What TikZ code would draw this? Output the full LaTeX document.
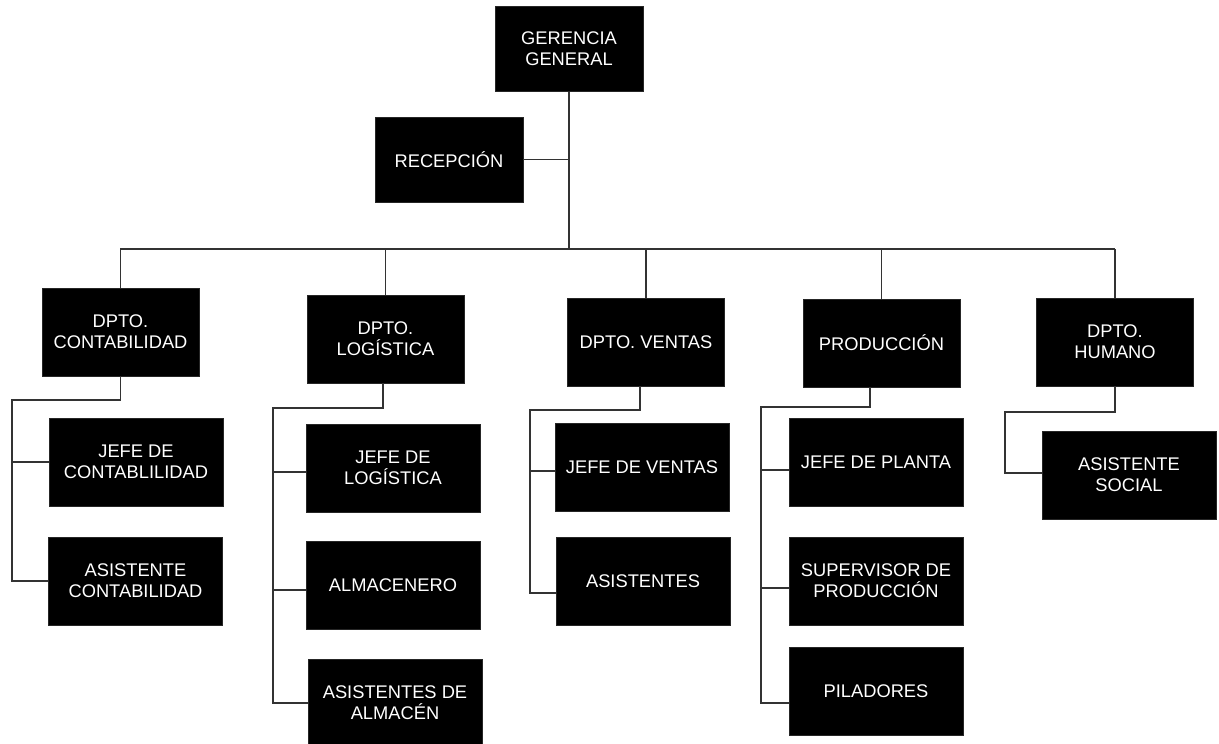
\documentclass[tikz,border=0pt]{standalone}
\usepackage{fontspec}
\setmainfont{Liberation Sans}
\begin{document}
\begin{tikzpicture}[x=1pt,y=-1pt,
  box/.style={fill=black,draw=black!85,line width=0.6pt,text=white,align=center,
    inner sep=0pt,font=\fontsize{18.3}{21}\selectfont},
  headbox/.style={box,minimum width=148pt,minimum height=85pt},
  deptbox/.style={box,minimum width=157pt,minimum height=88pt},
  staffbox/.style={box,minimum width=174pt,minimum height=88pt},
  link/.style={draw=black!80,line width=1.3pt}]
\useasboundingbox (0,0) rectangle (1219,744);

% top level
\node[headbox] (gg)  at (569,49)    {GERENCIA\\GENERAL};
\node[headbox] (rec) at (449,159.5) {RECEPCIÓN};

% departments
\node[deptbox] (cont) at (120.5,332) {DPTO.\\CONTABILIDAD};
\node[deptbox] (log)  at (385.5,339) {DPTO.\\LOGÍSTICA};
\node[deptbox] (ven)  at (646,342)   {DPTO. VENTAS};
\node[deptbox] (prod) at (881.5,343) {PRODUCCIÓN};
\node[deptbox] (hum)  at (1115,342)  {DPTO.\\HUMANO};

% staff
\node[staffbox] (jc)  at (136,462)   {JEFE DE\\CONTABLILIDAD};
\node[staffbox] (ac)  at (135.5,581) {ASISTENTE\\CONTABILIDAD};
\node[staffbox] (jl)  at (393,468)   {JEFE DE\\LOGÍSTICA};
\node[staffbox] (alm) at (393,585)   {ALMACENERO};
\node[staffbox] (asa) at (395,703)   {ASISTENTES DE\\ALMACÉN};
\node[staffbox] (jv)  at (642,467.5) {JEFE DE VENTAS};
\node[staffbox] (asv) at (643,581)   {ASISTENTES};
\node[staffbox] (jp)  at (876,462)   {JEFE DE PLANTA};
\node[staffbox] (sup) at (876,581)   {SUPERVISOR DE\\PRODUCCIÓN};
\node[staffbox] (pil) at (876,691)   {PILADORES};
\node[staffbox] (as)  at (1129,475)  {ASISTENTE\\SOCIAL};

% main bus
\coordinate (busL) at (120,249);
\coordinate (busR) at (1115,249);
\draw[link] (busL) -- (busR);
\draw[link] (gg.south) -- (gg.south |- busL);
\draw[link] (rec.east) -- (rec.east -| gg.south);
\foreach \d in {cont,log,ven,prod,hum}
  \draw[link] (\d.north) -- (\d.north |- busL);

% spines
\coordinate (scont) at (12,400);
\coordinate (slog)  at (273,408);
\coordinate (sven)  at (530,410);
\coordinate (sprod) at (761,407);
\coordinate (shum)  at (1005,412);

% entry points on the staff boxes
\coordinate (jcin)  at (jc.west);
\coordinate (acin)  at (ac.west);
\coordinate (jlin)  at ([yshift=-4pt]jl.west);
\coordinate (almin) at ([yshift=-5pt]alm.west);
\coordinate (asain) at (asa.west);
\coordinate (jvin)  at ([yshift=-3.5pt]jv.west);
\coordinate (asvin) at ([yshift=-12pt]asv.west);
\coordinate (jpin)  at ([yshift=-8pt]jp.west);
\coordinate (supin) at ([yshift=-7pt]sup.west);
\coordinate (pilin) at ([yshift=-12pt]pil.west);
\coordinate (asin)  at ([yshift=2pt]as.west);

% contabilidad
\draw[link] (cont.south) |- (scont) -- (scont |- acin) -- (acin);
\draw[link] (scont |- jcin) -- (jcin);

% logística
\draw[link] ([xshift=-2.5pt]log.south) |- (slog) -- (slog |- asain) -- (asain);
\draw[link] (slog |- jlin) -- (jlin);
\draw[link] (slog |- almin) -- (almin);

% ventas
\draw[link] ([xshift=-6pt]ven.south) |- (sven) -- (sven |- asvin) -- (asvin);
\draw[link] (sven |- jvin) -- (jvin);

% producción
\draw[link] ([xshift=-11.5pt]prod.south) |- (sprod) -- (sprod |- pilin) -- (pilin);
\draw[link] (sprod |- jpin) -- (jpin);
\draw[link] (sprod |- supin) -- (supin);

% humano
\draw[link] (hum.south) |- (shum) -- (shum |- asin) -- (asin);
\end{tikzpicture}
\end{document}
